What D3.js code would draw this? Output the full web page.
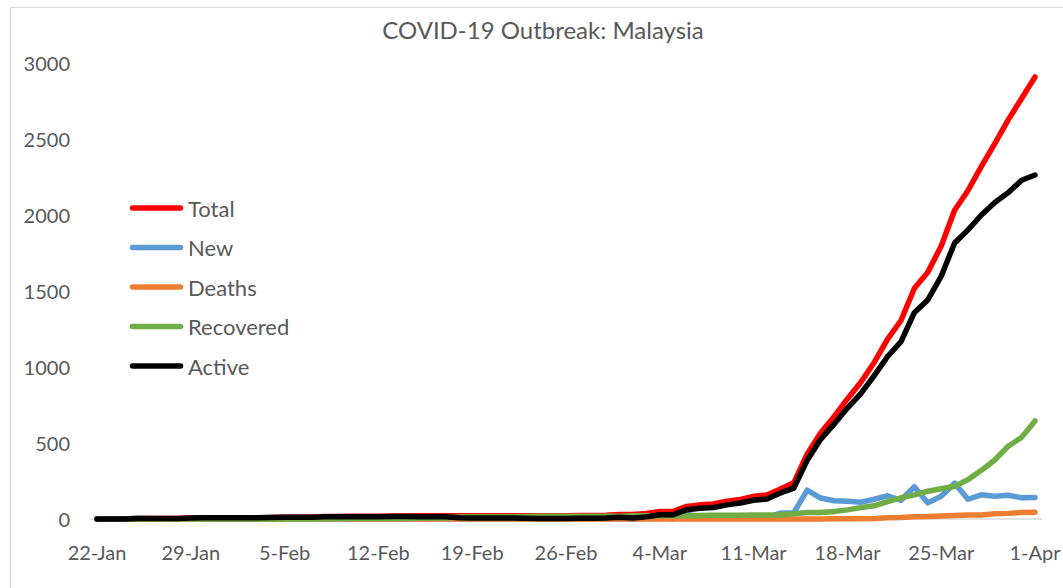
<!DOCTYPE html>
<html>
<head>
<meta charset="utf-8">
<script src="https://cdn.jsdelivr.net/npm/d3@7"></script>
<style>
  html, body { margin: 0; padding: 0; background: #fff; }
  svg { display: block; }
  text { font-family: Lato, "Open Sans", sans-serif; fill: #595959; }
</style>
</head>
<body>
<svg id="chart" width="1063" height="588"></svg>
<script>
// ---- data ----
const dates = [
  "2020-01-22","2020-01-23","2020-01-24","2020-01-25","2020-01-26","2020-01-27","2020-01-28","2020-01-29","2020-01-30","2020-01-31",
  "2020-02-01","2020-02-02","2020-02-03","2020-02-04","2020-02-05","2020-02-06","2020-02-07","2020-02-08","2020-02-09","2020-02-10",
  "2020-02-11","2020-02-12","2020-02-13","2020-02-14","2020-02-15","2020-02-16","2020-02-17","2020-02-18","2020-02-19","2020-02-20",
  "2020-02-21","2020-02-22","2020-02-23","2020-02-24","2020-02-25","2020-02-26","2020-02-27","2020-02-28","2020-02-29",
  "2020-03-01","2020-03-02","2020-03-03","2020-03-04","2020-03-05","2020-03-06","2020-03-07","2020-03-08","2020-03-09","2020-03-10",
  "2020-03-11","2020-03-12","2020-03-13","2020-03-14","2020-03-15","2020-03-16","2020-03-17","2020-03-18","2020-03-19","2020-03-20",
  "2020-03-21","2020-03-22","2020-03-23","2020-03-24","2020-03-25","2020-03-26","2020-03-27","2020-03-28","2020-03-29","2020-03-30",
  "2020-03-31","2020-04-01"
];

const total = [
  0,0,0,3,4,4,4,7,8,8,
  8,8,8,10,12,12,12,16,16,18,18,18,19,19,22,22,22,22,22,22,22,22,22,22,22,22,23,23,25,
  29,29,36,50,50,83,93,99,117,129,149,158,197,238,428,566,673,790,900,1030,1183,1306,1518,1624,1796,2031,2161,2320,2470,2626,2766,
  2908
];
const newCases = [
  0,0,0,3,1,0,0,3,1,0,
  0,0,0,2,2,0,0,4,0,2,0,0,1,0,3,0,0,0,0,0,0,0,0,0,0,0,1,0,2,
  4,0,7,14,0,33,10,6,18,12,20,9,39,41,190,138,120,117,110,130,153,123,212,106,150,235,130,159,150,156,140,
  142
];
const deaths = [
  0,0,0,0,0,0,0,0,0,0,
  0,0,0,0,0,0,0,0,0,0,0,0,0,0,0,0,0,0,0,0,0,0,0,0,0,0,0,0,0,
  0,0,0,0,0,0,0,0,0,0,0,0,0,0,0,0,2,2,2,3,8,10,14,16,20,23,26,27,34,37,43,
  45
];
const recovered = [
  0,0,0,0,0,0,0,0,0,0,
  0,0,0,0,0,0,0,1,1,3,3,3,3,3,7,7,7,13,15,15,15,15,17,18,18,18,18,18,18,
  18,22,22,22,22,22,23,24,24,24,26,26,26,35,42,42,49,60,75,87,114,139,159,183,199,215,259,320,388,479,537,
  645
];
const active = [
  0,0,0,3,4,4,4,7,8,8,
  8,8,8,10,12,12,12,15,15,15,15,15,16,16,15,15,15,9,7,7,7,7,5,4,4,4,5,5,7,
  11,7,14,28,28,61,70,75,93,105,123,132,171,203,386,524,624,730,825,943,1069,1167,1359,1441,1597,1816,1902,2000,2082,2147,2229,
  2263
];

const seriesNames = ["Total","New","Deaths","Recovered","Active"];
const seriesColors = ["#ff0000","#5b9bd5","#ed7d31","#70ad47","#000000"];
const seriesValues = [total, newCases, deaths, recovered, active];

const xTickLabels = ["22-Jan","29-Jan","5-Feb","12-Feb","19-Feb","26-Feb","4-Mar","11-Mar","18-Mar","25-Mar","1-Apr"];
const xTickDates = ["2020-01-22","2020-01-29","2020-02-05","2020-02-12","2020-02-19","2020-02-26","2020-03-04","2020-03-11","2020-03-18","2020-03-25","2020-04-01"];
const yTicks = [0,500,1000,1500,2000,2500,3000];
const titleText = "COVID-19 Outbreak: Malaysia";

// ---- drawing ----
const svg = d3.select("#chart");
const n = dates.length;
const x = d3.scaleLinear().domain([-0.5, n - 0.5]).range([90.3, 1041.7]);
const y = d3.scaleLinear().domain([0, 3000]).range([519, 63]);

// chart border (cropped)
svg.append("line").attr("x1", 10.5).attr("x2", 10.5).attr("y1", 7).attr("y2", 588)
  .attr("stroke", "#d9d9d9").attr("stroke-width", 1.2);
svg.append("line").attr("x1", 10).attr("x2", 1063).attr("y1", 7.5).attr("y2", 7.5)
  .attr("stroke", "#d9d9d9").attr("stroke-width", 1.2);

// title
svg.append("text").attr("x", 543).attr("y", 29).attr("text-anchor", "middle")
  .attr("dominant-baseline", "central").style("font-size", "24px").text(titleText);

// y axis labels
svg.append("g").selectAll("text").data(yTicks).join("text")
  .attr("x", 70).attr("y", d => y(d)).attr("text-anchor", "end")
  .attr("dominant-baseline", "central").style("font-size", "20px").text(d => d);

// x axis line
svg.append("line").attr("x1", x(-0.5)).attr("x2", x(n - 0.5)).attr("y1", y(0)).attr("y2", y(0))
  .attr("stroke", "#d9d9d9").attr("stroke-width", 1.5);

// x labels
svg.append("g").selectAll("text").data(xTickLabels).join("text")
  .attr("x", (d, i) => x(dates.indexOf(xTickDates[i])))
  .attr("y", 552).attr("text-anchor", "middle").attr("dominant-baseline", "central")
  .style("font-size", "20px").text(d => d);

// lines
const line = d3.line().x((d, i) => x(i)).y(d => y(d));
seriesValues.forEach((vals, k) => {
  svg.append("path").datum(vals).attr("d", line)
    .attr("fill", "none").attr("stroke", seriesColors[k]).attr("stroke-width", 5.5)
    .attr("stroke-linejoin", "round").attr("stroke-linecap", "round");
});

// legend
const legendY = d3.scaleLinear().domain([0, 4]).range([208, 366]);
const lg = svg.append("g");
seriesNames.forEach((name, k) => {
  lg.append("line").attr("x1", 132.5).attr("x2", 180.5)
    .attr("y1", legendY(k)).attr("y2", legendY(k))
    .attr("stroke", seriesColors[k]).attr("stroke-width", 5.5).attr("stroke-linecap", "round");
  lg.append("text").attr("x", 188).attr("y", legendY(k)).attr("dominant-baseline", "central")
    .style("font-size", "22px").text(name);
});
</script>
</body>
</html>
